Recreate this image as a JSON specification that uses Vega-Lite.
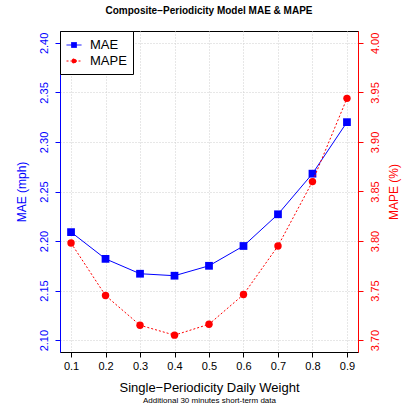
{
  "$schema": "https://vega.github.io/schema/vega-lite/v6.json",
  "width": 298,
  "height": 321,
  "autosize": "none",
  "padding": {"left": 60, "top": 31, "right": 47, "bottom": 56},
  "background": "white",
  "title": {"text": "Composite−Periodicity Model MAE & MAPE", "fontSize": 10, "fontWeight": "bold", "font": "Liberation Sans", "color": "black", "anchor": "middle", "offset": 15},
  "config": {
    "font": "Liberation Sans",
    "view": {"stroke": "black", "strokeWidth": 1},
    "axis": {"titleFontWeight": "normal", "labelFont": "Liberation Sans", "titleFont": "Liberation Sans"}
  },
  "data": {"values": [
    {"w": 0.1, "MAE": 2.209, "MAPE": 3.798},
    {"w": 0.2, "MAE": 2.182, "MAPE": 3.745},
    {"w": 0.3, "MAE": 2.167, "MAPE": 3.715},
    {"w": 0.4, "MAE": 2.165, "MAPE": 3.705},
    {"w": 0.5, "MAE": 2.175, "MAPE": 3.716},
    {"w": 0.6, "MAE": 2.195, "MAPE": 3.746},
    {"w": 0.7, "MAE": 2.227, "MAPE": 3.795},
    {"w": 0.8, "MAE": 2.268, "MAPE": 3.860},
    {"w": 0.9, "MAE": 2.320, "MAPE": 3.944}
  ]},
  "layer": [
    {
      "encoding": {
        "x": {"field": "w", "type": "quantitative",
          "scale": {"domain": [0.068, 0.932], "nice": false, "zero": false},
          "axis": {"orient": "bottom", "title": "Single−Periodicity Daily Weight", "values": [0.1,0.2,0.3,0.4,0.5,0.6,0.7,0.8,0.9], "format": ".1f",
            "domain": false, "tickColor": "black", "tickSize": 5, "labelColor": "black", "labelFontSize": 11, "labelPadding": 3,
            "titleFontSize": 13, "titleColor": "black", "titlePadding": 10,
            "grid": true, "gridColor": "#cfcfcf", "gridDash": [1, 2]}},
        "y": {"field": "MAE", "type": "quantitative",
          "scale": {"domain": [2.088, 2.412], "nice": false, "zero": false},
          "axis": {"orient": "left", "title": "MAE (mph)", "values": [2.1,2.15,2.2,2.25,2.3,2.35,2.4], "format": ".2f",
            "labelAngle": 270, "labelColor": "#0000ff", "tickColor": "#0000ff", "domainColor": "#0000ff", "titleColor": "#0000ff",
            "labelFontSize": 11, "titleFontSize": 12, "tickSize": 5, "labelPadding": 6, "titleAngle": 270, "titlePadding": 10,
            "grid": true, "gridColor": "#cfcfcf", "gridDash": [1, 2]}},
        "color": {"datum": "MAE", "type": "nominal",
          "scale": {"domain": ["MAE", "MAPE"], "range": ["#0000ff", "#ff0000"]},
          "legend": {"title": null, "orient": "none", "legendX": 0, "legendY": 0, "strokeColor": "black", "fillColor": "white",
            "padding": 6, "labelFontSize": 13, "labelColor": "black", "labelFont": "Liberation Sans", "symbolSize": 225, "rowPadding": 1, "labelOffset": 8, "cornerRadius": 0,
            "encode": {"symbols": {"update": {
              "shape": {"signal": "datum.value == 'MAE' ? 'M-1,0H1M-0.33,-0.33H0.33V0.33H-0.33Z' : 'M-1,0H1M0.3,0A0.3,0.3,0,1,1,-0.3,0A0.3,0.3,0,1,1,0.3,0'"},
              "fill": {"signal": "datum.value == 'MAE' ? '#0000ff' : '#ff0000'"},
              "stroke": {"signal": "datum.value == 'MAE' ? '#0000ff' : '#ff0000'"},
              "strokeDash": {"signal": "datum.value == 'MAE' ? [1,0] : [2,2]"},
              "strokeWidth": {"value": 1},
              "opacity": {"value": 1},
              "fillOpacity": {"value": 1}
            }}}}}
      },
      "layer": [
        {"mark": {"type": "line", "strokeWidth": 1}},
        {"mark": {"type": "point", "shape": "square", "filled": true, "size": 60, "opacity": 1}}
      ]
    },
    {
      "encoding": {
        "x": {"field": "w", "type": "quantitative",
          "scale": {"domain": [0.068, 0.932], "nice": false, "zero": false},
          "axis": {"orient": "bottom", "title": "Additional 30 minutes short-term data", "labels": false, "ticks": false, "domain": false, "grid": false,
            "titleFontSize": 8, "titleColor": "black", "titlePadding": 44}},
        "y": {"field": "MAPE", "type": "quantitative",
          "scale": {"domain": [3.688, 4.012], "nice": false, "zero": false},
          "axis": {"orient": "right", "title": "MAPE (%)", "values": [3.7,3.75,3.8,3.85,3.9,3.95,4.0], "format": ".2f",
            "labelAngle": 270, "labelColor": "#ff0000", "tickColor": "#ff0000", "domainColor": "#ff0000", "titleColor": "#ff0000",
            "labelFontSize": 11, "titleFontSize": 12, "tickSize": 5, "labelPadding": 6, "titleAngle": 270, "titlePadding": 20,
            "grid": false}},
        "color": {"datum": "MAPE", "type": "nominal"}
      },
      "layer": [
        {"mark": {"type": "line", "strokeWidth": 1, "strokeDash": [2, 2]}},
        {"mark": {"type": "point", "shape": "circle", "filled": true, "size": 55, "opacity": 1}}
      ]
    }
  ],
  "resolve": {"scale": {"x": "independent", "y": "independent"}}
}
